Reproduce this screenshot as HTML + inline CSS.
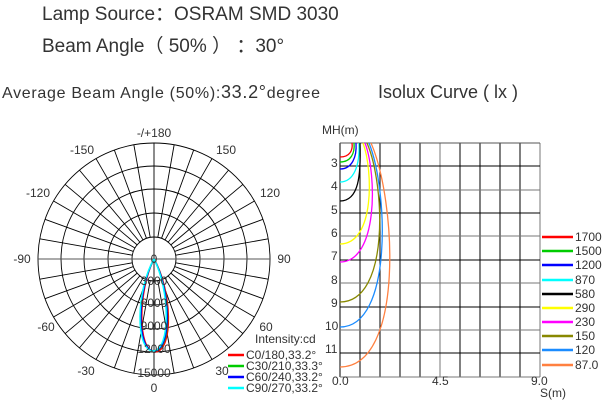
<!DOCTYPE html>
<html><head><meta charset="utf-8"><style>
body{margin:0;background:#fff;width:603px;height:401px;overflow:hidden}
svg{display:block;font-family:"Liberation Sans","DejaVu Sans",sans-serif}
</style></head><body>
<svg width="603" height="401" viewBox="0 0 603 401">
<g fill="#333">
<text x="42" y="20" font-size="19">Lamp Source：OSRAM SMD 3030</text>
<text x="42" y="52" font-size="19">Beam Angle（ 50% ） ：30°</text>
<text x="2" y="98" font-size="16" textLength="318">Average Beam Angle (50%):<tspan font-size="18">33.2°</tspan>degree</text>
<text x="378" y="98" font-size="18">Isolux Curve ( lx )</text>
</g>
<!-- polar -->
<g fill="none" stroke="#000" stroke-width="0.9">
<circle cx="154" cy="259" r="22"/><circle cx="154" cy="259" r="46"/><circle cx="154" cy="259" r="70"/><circle cx="154" cy="259" r="93"/><circle cx="154" cy="259" r="116"/>
<g transform="translate(154,259)">
<line y1="22" y2="116" transform="rotate(10)"/><line y1="22" y2="116" transform="rotate(20)"/><line y1="22" y2="116" transform="rotate(30)"/><line y1="22" y2="116" transform="rotate(40)"/><line y1="22" y2="116" transform="rotate(50)"/><line y1="22" y2="116" transform="rotate(60)"/><line y1="22" y2="116" transform="rotate(70)"/><line y1="22" y2="116" transform="rotate(80)"/>
<line y1="22" y2="116" transform="rotate(100)"/><line y1="22" y2="116" transform="rotate(110)"/><line y1="22" y2="116" transform="rotate(120)"/><line y1="22" y2="116" transform="rotate(130)"/><line y1="22" y2="116" transform="rotate(140)"/><line y1="22" y2="116" transform="rotate(150)"/><line y1="22" y2="116" transform="rotate(160)"/><line y1="22" y2="116" transform="rotate(170)"/>
<line y1="22" y2="116" transform="rotate(190)"/><line y1="22" y2="116" transform="rotate(200)"/><line y1="22" y2="116" transform="rotate(210)"/><line y1="22" y2="116" transform="rotate(220)"/><line y1="22" y2="116" transform="rotate(230)"/><line y1="22" y2="116" transform="rotate(240)"/><line y1="22" y2="116" transform="rotate(250)"/><line y1="22" y2="116" transform="rotate(260)"/>
<line y1="22" y2="116" transform="rotate(280)"/><line y1="22" y2="116" transform="rotate(290)"/><line y1="22" y2="116" transform="rotate(300)"/><line y1="22" y2="116" transform="rotate(310)"/><line y1="22" y2="116" transform="rotate(320)"/><line y1="22" y2="116" transform="rotate(330)"/><line y1="22" y2="116" transform="rotate(340)"/><line y1="22" y2="116" transform="rotate(350)"/>
</g>
<line x1="154" y1="143" x2="154" y2="375"/>
<line x1="38" y1="259" x2="270" y2="259" stroke="#555"/>
</g>
<g fill="none" stroke-width="1.5">
<path d="M154,259 C172,290 174,351 155,352 C137,351 138,290 154,259" stroke="#f00"/>
<path d="M154,259 C171,290 173,350 154,351 C136,350 137,290 154,259" stroke="#0c0"/>
<path d="M154,259 C171,290 172,350 154,351 C136,350 137,290 154,259" stroke="#00f"/>
<path d="M154,259 C170,290 171,350 153,351 C135,350 136,290 154,259" stroke="#0ff"/>
</g>
<g fill="#333" font-size="12" text-anchor="middle">
<text x="154" y="137">-/+180</text><text x="82" y="154">-150</text><text x="226" y="154">150</text>
<text x="38" y="197">-120</text><text x="270" y="197">120</text>
<text x="22" y="263">-90</text><text x="284" y="263">90</text>
<text x="46" y="331">-60</text><text x="266" y="331">60</text>
<text x="86" y="375">-30</text><text x="222" y="375">30</text>
<text x="154" y="392">0</text><text x="154" y="263">0</text>
<text x="154" y="285">3000</text><text x="154" y="307">6000</text><text x="154" y="330">9000</text><text x="154" y="353">12000</text><text x="154" y="377">15000</text>
</g>
<g font-size="12" fill="#333">
<text x="255" y="343">Intensity:cd</text>
<text x="246" y="359">C0/180,33.2°</text><text x="246" y="370">C30/210,33.3°</text><text x="246" y="381">C60/240,33.2°</text><text x="246" y="392">C90/270,33.2°</text>
</g>
<g stroke-width="2.5"><line x1="228" y1="355" x2="244" y2="355" stroke="#f00"/><line x1="228" y1="366" x2="244" y2="366" stroke="#0c0"/><line x1="228" y1="377" x2="244" y2="377" stroke="#00f"/><line x1="228" y1="388" x2="244" y2="388" stroke="#0ff"/></g>
<!-- isolux grid -->
<g stroke-width="1">
<g stroke="#000">
<line x1="340" y1="143" x2="340" y2="377"/><line x1="360" y1="143" x2="360" y2="377"/><line x1="380" y1="143" x2="380" y2="377"/><line x1="400" y1="143" x2="400" y2="377"/><line x1="420" y1="143" x2="420" y2="377"/><line x1="460" y1="143" x2="460" y2="377"/><line x1="480" y1="143" x2="480" y2="377"/><line x1="500" y1="143" x2="500" y2="377"/><line x1="520" y1="143" x2="520" y2="377"/>
</g>
<g stroke="#777"><line x1="440" y1="143" x2="440" y2="377"/><line x1="540" y1="143" x2="540" y2="377"/></g>
<line x1="340" y1="143" x2="540" y2="143" stroke="#555"/>
<line x1="340" y1="166" x2="540" y2="166" stroke="#000"/>
<line x1="340" y1="190" x2="540" y2="190" stroke="#777"/>
<line x1="340" y1="213" x2="540" y2="213" stroke="#000"/>
<line x1="340" y1="236" x2="540" y2="236" stroke="#777"/>
<line x1="340" y1="260" x2="540" y2="260" stroke="#000"/>
<line x1="340" y1="283" x2="540" y2="283" stroke="#777"/>
<line x1="340" y1="307" x2="540" y2="307" stroke="#000"/>
<line x1="340" y1="330" x2="540" y2="330" stroke="#777"/>
<line x1="340" y1="353" x2="540" y2="353" stroke="#000"/>
<line x1="340" y1="377" x2="540" y2="377" stroke="#777"/>
</g>
<g fill="none" stroke-width="1.3">
<path d="M352,143 C353,150 350,157 340,157" stroke="#f00"/>
<path d="M354,143 C355,153 351,162 340,162" stroke="#0c0"/>
<path d="M356,143 C357,157 352,169 340,169" stroke="#00f"/>
<path d="M359,143 C360,165 354,182 340,182" stroke="#0ff"/>
<path d="M360,143 C361,175 359,201 340,201" stroke="#000"/>
<path d="M363,143 C373,170 375,244 340,244" stroke="#ff0"/>
<path d="M365,143 C377,175 378,262 340,262" stroke="#f0f"/>
<path d="M367,143 C385,185 390,302 340,302" stroke="#880"/>
<path d="M369,143 C388,190 393,327 340,327" stroke="#1b8cff"/>
<path d="M371,143 C396,200 405,367 340,367" stroke="#ff8040"/>
</g>
<g fill="#333" font-size="12">
<text x="322" y="134">MH(m)</text>
<text x="331" y="167">3</text><text x="331" y="190">4</text><text x="331" y="214">5</text><text x="331" y="237">6</text><text x="331" y="260">7</text><text x="331" y="284">8</text><text x="331" y="307">9</text><text x="325" y="330">10</text><text x="325" y="353">11</text>
<text x="332" y="385">0.0</text><text x="432" y="385">4.5</text><text x="531" y="385">9.0</text><text x="540" y="397">S(m)</text>
<text x="575" y="241">1700</text><text x="575" y="255">1500</text><text x="575" y="269">1200</text><text x="575" y="284">870</text><text x="575" y="298">580</text><text x="575" y="312">290</text><text x="575" y="326">230</text><text x="575" y="340">150</text><text x="575" y="354">120</text><text x="575" y="369">87.0</text>
</g>
<g stroke-width="2.5">
<line x1="542" y1="237" x2="573" y2="237" stroke="#f00"/><line x1="542" y1="251" x2="573" y2="251" stroke="#0c0"/><line x1="542" y1="265" x2="573" y2="265" stroke="#00f"/><line x1="542" y1="280" x2="573" y2="280" stroke="#0ff"/><line x1="542" y1="294" x2="573" y2="294" stroke="#000"/><line x1="542" y1="308" x2="573" y2="308" stroke="#ff0"/><line x1="542" y1="322" x2="573" y2="322" stroke="#f0f"/><line x1="542" y1="336" x2="573" y2="336" stroke="#880"/><line x1="542" y1="350" x2="573" y2="350" stroke="#1b8cff"/><line x1="542" y1="365" x2="573" y2="365" stroke="#ff8040"/>
</g>
</svg>
</body></html>
